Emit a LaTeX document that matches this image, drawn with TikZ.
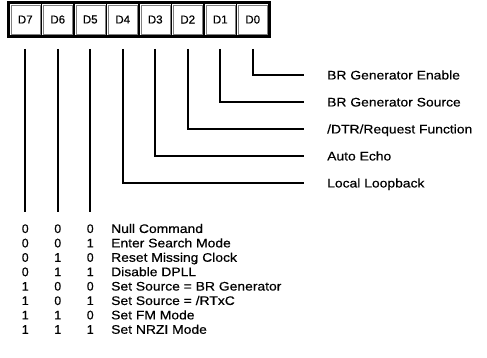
\documentclass[tikz,border=0pt]{standalone}
\usepackage{fontspec}
\setmainfont{Liberation Sans}[FakeBold=0.5]
\newfontfamily\lblfont[FakeStretch=1.12,FakeBold=0.5]{Liberation Sans}
\usetikzlibrary{calc}
\begin{document}
\begin{tikzpicture}[x=1pt,y=-1pt,
  cell/.style={draw,line width=1.6pt,minimum width=32.5pt,minimum height=33pt,inner sep=0pt,font=\fontsize{11.5}{13}\selectfont},
  lbl/.style={anchor=west,inner sep=0pt,text height=8.9pt,text depth=0pt,font=\lblfont\fontsize{12.4}{14}\selectfont},
  dig/.style={inner sep=0pt,text height=8.9pt,text depth=0pt,font=\fontsize{12.4}{14}\selectfont},
  wire/.style={line width=1.8pt}]
\useasboundingbox (0,0) rectangle (487,357);
% register cells
\foreach \i in {7,...,0}{
  \node[cell] (c\i) at ({25.25+32.5*(7-\i)},19.5) {D\i};
  \draw[line width=0.4pt,black!50] ($(c\i.north west)+(2.6,2.6)$) rectangle ($(c\i.south east)+(-2.6,-2.6)$);
}
\draw[line width=2pt] (c7.north west) rectangle (c0.south east);
% right labels
\node[lbl] (l0) at (327,75) {BR Generator Enable};
\node[lbl] (l1) at (327,102) {BR Generator Source};
\node[lbl] (l2) at (327,129) {/DTR/Request Function};
\node[lbl] (l3) at (327,156) {Auto Echo};
\node[lbl] (l4) at (327,183) {Local Loopback};
% connectors
\foreach \i in {0,...,4}{
  \draw[wire] ($(c\i.south)+(0,12)$) |- ($(l\i.west)+(-23,0)$);
}
\foreach \i in {7,6,5}{
  \coordinate (e\i) at ($(c\i.south)+(0,175)$);
  \draw[wire] ($(c\i.south)+(0,12)$) -- (e\i);
}
% mode table
\def\rows{0/0/0/{Null Command},0/0/1/{Enter Search Mode},0/1/0/{Reset Missing Clock},0/1/1/{Disable DPLL},1/0/0/{Set Source = BR Generator},1/0/1/{Set Source = /RTxC},1/1/0/{Set FM Mode},1/1/1/{Set NRZI Mode}}
\foreach \a/\b/\c/\t [count=\k from 0] in \rows{
  \node[dig] (a\k) at (25.25,{228.5+14.4*\k}) {\a};
  \node[dig] (b\k) at (57.75,{228.5+14.4*\k}) {\b};
  \node[dig] (d\k) at (90.25,{228.5+14.4*\k}) {\c};
  \node[lbl] (t\k) at (111,{228.5+14.4*\k}) {\t};
}
\end{tikzpicture}
\end{document}
